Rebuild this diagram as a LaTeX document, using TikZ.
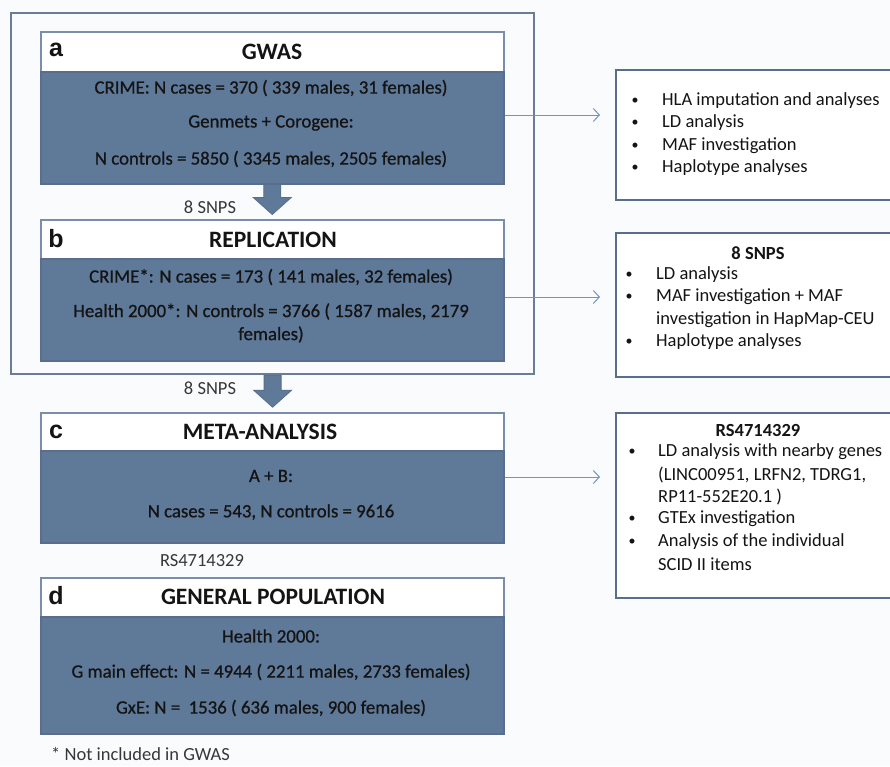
\documentclass[tikz,border=0pt]{standalone}
\usepackage{fontspec}
\setmainfont{Carlito}
\newfontfamily\letterfont{Liberation Sans}
\newfontfamily\bodyfont{Carlito}[FakeBold=0.8]
\usetikzlibrary{arrows.meta,calc}
\definecolor{bodyblue}{HTML}{5F7999}
\definecolor{edgeblue}{HTML}{5A6D8C}
\definecolor{hdredge}{HTML}{7A8DAA}
\definecolor{linkblue}{HTML}{7393C0}
\definecolor{bg}{HTML}{FAFBFD}
\definecolor{ink}{HTML}{141414}
\begin{document}
\begin{tikzpicture}[x=1pt,y=-1pt,
  hdr/.style={draw=hdredge, line width=1.5pt, fill=white, anchor=north west, minimum width=463pt, inner sep=0pt},
  bodybox/.style={draw=edgeblue, line width=1.5pt, fill=bodyblue, anchor=north west, minimum width=463pt, inner sep=0pt},
  sidebox/.style={draw=edgeblue, line width=2pt, fill=white, anchor=north west, minimum width=290pt, inner sep=0pt},
  letter/.style={font=\letterfont\bfseries\fontsize{25}{30}\selectfont, text=ink, inner sep=0pt},
  title/.style={font=\bfseries\fontsize{23.5}{28}\selectfont, text=ink, inner sep=0pt},
  btext/.style={font=\bodyfont\fontsize{18.8}{23}\selectfont, text=ink, inner sep=0pt, align=center},
  stext/.style={font=\fontsize{18.5}{22.5}\selectfont, text=ink, inner sep=0pt, anchor=west},
  stitle/.style={font=\bfseries\fontsize{18.5}{22.5}\selectfont, text=ink, inner sep=0pt},
  bul/.style={font=\fontsize{14}{16}\selectfont, text=ink, inner sep=0pt},
  lbl/.style={font=\fontsize{18.5}{22}\selectfont, text=ink!85, inner sep=0pt},
  link/.style={draw=linkblue, line width=1pt, -{Straight Barb[length=6pt,width=13pt]}, shorten >=15pt},
  blockarrow/.style={fill=bodyblue, draw=edgeblue, line width=0.8pt, line join=miter}
]
\useasboundingbox (0,0) rectangle (890,766);
\fill[bg] (0,0) rectangle (890,766);

% outer frame
\node[draw=edgeblue!90, line width=2.2pt, anchor=north west, minimum width=523pt, minimum height=361pt, inner sep=0pt] (outer) at (10,12) {};

% box a
\node[hdr, minimum height=40pt] (ah) at (40,31) {};
\node[bodybox, minimum height=112pt] (ab) at (40,71) {};
\node[letter] (al) at (56,50) {a};
\node[title] (at) at (272,52) {GWAS};
\node[btext] (a1) at (271,88) {CRIME: N cases = 370 ( 339 males, 31 females)};
\node[btext] (a2) at (271,123) {Genmets + Corogene:};
\node[btext] (a3) at (271,159) {N controls = 5850 ( 3345 males, 2505 females)};

% box b
\node[hdr, minimum height=39pt] (bh) at (40,219) {};
\node[bodybox, minimum height=102pt] (bb) at (40,258) {};
\node[letter] (bl) at (56,239) {b};
\node[title] (bt) at (273,240) {REPLICATION};
\node[btext] (b1) at (271,277) {CRIME*: N cases = 173 ( 141 males, 32 females)};
\node[btext] (b2) at (271,323) {Health 2000*: N controls = 3766 ( 1587 males, 2179\\females)};

% box c
\node[hdr, minimum height=38pt] (ch) at (40,412) {};
\node[bodybox, minimum height=92pt] (cb) at (40,450) {};
\node[letter] (cl) at (56,432) {c};
\node[title] (ct) at (260,432) {META-ANALYSIS};
\node[btext] (c1) at (271,476) {A + B:};
\node[btext] (c2) at (271,512) {N cases = 543, N controls = 9616};

% box d
\node[hdr, minimum height=39pt] (dh) at (40,577) {};
\node[bodybox, minimum height=117pt] (db) at (40,616) {};
\node[letter] (dl) at (56,596) {d};
\node[title] (dt) at (273,597) {GENERAL POPULATION};
\node[btext] (d1) at (271,636) {Health 2000:};
\node[btext] (d2) at (271,672) {G main effect: N = 4944 ( 2211 males, 2733 females)};
\node[btext] (d3) at (271,708) {GxE: N = \ 1536 ( 636 males, 900 females)};

% block arrows
\coordinate (t1) at (ab.south);
\filldraw[blockarrow] ($(t1)+(-8.5,0)$) -- ($(t1)+(-8.5,13)$) -- ($(t1)+(-19,13)$) -- ($(t1)+(0,30)$) -- ($(t1)+(19,13)$) -- ($(t1)+(8.5,13)$) -- ($(t1)+(8.5,0)$) -- cycle;
\coordinate (t2) at (outer.south);
\filldraw[blockarrow] ($(t2)+(-8.5,0)$) -- ($(t2)+(-8.5,15)$) -- ($(t2)+(-19,15)$) -- ($(t2)+(0,32)$) -- ($(t2)+(19,15)$) -- ($(t2)+(8.5,15)$) -- ($(t2)+(8.5,0)$) -- cycle;

% labels
\node[lbl] (s1) at (210,207) {8 SNPS};
\node[lbl] (s2) at (210,388) {8 SNPS};
\node[lbl] (rs) at (202,561) {RS4714329};
\node[lbl, anchor=west] (fn) at (51,754) {* Not included in GWAS};

% side boxes
\node[sidebox, minimum height=130pt] (ra) at (615,69) {};
\node[bul] at (635,101) {\textbullet}; \node[stext] at (662,101) {HLA imputation and analyses};
\node[bul] at (635,123) {\textbullet}; \node[stext] at (662,123) {LD analysis};
\node[bul] at (635,146) {\textbullet}; \node[stext] at (662,146) {MAF investigation};
\node[bul] at (635,168) {\textbullet}; \node[stext] at (662,168) {Haplotype analyses};

\node[sidebox, minimum height=144pt] (rb) at (615,232) {};
\node[stitle] at (758,253) {8 SNPS};
\node[bul] at (629,275) {\textbullet}; \node[stext] at (656,275) {LD analysis};
\node[bul] at (629,297) {\textbullet}; \node[stext] at (656,297) {MAF investigation + MAF};
\node[stext] at (656,320) {investigation in HapMap-CEU};
\node[bul] at (629,342) {\textbullet}; \node[stext] at (656,342) {Haplotype analyses};

\node[sidebox, minimum height=185pt] (rc) at (615,412) {};
\node[stitle] at (758,430) {RS4714329};
\node[bul] at (632,452) {\textbullet}; \node[stext] at (658,452) {LD analysis with nearby genes};
\node[stext] at (658,475) {(LINC00951, LRFN2, TDRG1,};
\node[stext] at (658,497) {RP11-552E20.1 )};
\node[bul] at (632,519) {\textbullet}; \node[stext] at (658,519) {GTEx investigation};
\node[bul] at (632,542) {\textbullet}; \node[stext] at (658,542) {Analysis of the individual};
\node[stext] at (658,564) {SCID II items};

% connectors
\coordinate (ca) at (ab.east |- 0,115);
\coordinate (cbb) at (bb.east |- 0,297);
\coordinate (cc) at (cb.east |- 0,477);
\draw[link] (ca) -- (ca -| ra.west);
\draw[link] (cbb) -- (cbb -| rb.west);
\draw[link] (cc) -- (cc -| rc.west);
\end{tikzpicture}
\end{document}
